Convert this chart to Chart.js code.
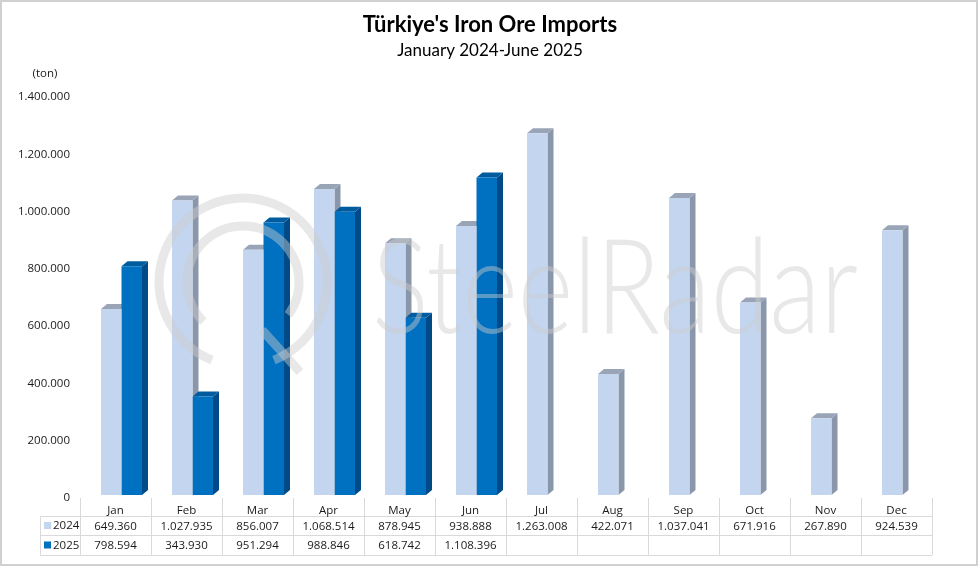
<!DOCTYPE html>
<html><head><meta charset="utf-8">
<script src="https://cdn.jsdelivr.net/npm/chart.js@4.4.1/dist/chart.umd.min.js"></script>
<style>html,body{margin:0;padding:0;background:#fff}#wrap{width:978px;height:566px;position:relative}</style>
</head><body><div id="wrap"><canvas id="c" width="978" height="566"></canvas></div>
<script>
const months = ['Jan','Feb','Mar','Apr','May','Jun','Jul','Aug','Sep','Oct','Nov','Dec'];
const seriesNames = ['2024','2025'];
const imports2024 = [649360,1027935,856007,1068514,878945,938888,1263008,422071,1037041,671916,267890,924539];
const imports2025 = [798594,343930,951294,988846,618742,1108396,null,null,null,null,null,null];
const yTicks = [0,200000,400000,600000,800000,1000000,1200000,1400000];
const titleText = "Türkiye's Iron Ore Imports";
const subtitleText = 'January 2024-June 2025';
const unitLabel = '(ton)';
const watermarkText = 'SteelRadar';

const FRONT = ['#C3D5EF', '#0070C0'];
const SIDE = ['#8A97AB', '#004B87'];
const TOP = ['#99A5B7', '#005C9F'];
const FONT = "'Open Sans', 'Liberation Sans', sans-serif";

function fmt(v){ return String(v).replace(/\B(?=(\d{3})+(?!\d))/g, '.'); }

const DX = 6, DY = 5;

const deco = {
  id: 'deco',
  beforeDraw(chart){
    const ctx = chart.ctx;
    ctx.save(); ctx.fillStyle = '#fff'; ctx.fillRect(0,0,chart.width,chart.height); ctx.restore();
  },
  beforeDatasetsDraw(chart){
    const ctx = chart.ctx;
    ctx.save();
    chart.data.datasets.forEach((ds, di) => {
      const meta = chart.getDatasetMeta(di);
      meta.data.forEach((bar, i) => {
        if (ds.data[i] == null) return;
        const p = bar.getProps(['x','y','base','width'], true);
        const l = p.x - p.width/2, r = p.x + p.width/2, t = p.y, b = p.base;
        ctx.fillStyle = SIDE[di];
        ctx.beginPath();
        ctx.moveTo(r, t); ctx.lineTo(r+DX, t-DY); ctx.lineTo(r+DX, b-DY); ctx.lineTo(r, b); ctx.closePath(); ctx.fill();
        ctx.fillStyle = TOP[di];
        ctx.beginPath();
        ctx.moveTo(l, t); ctx.lineTo(l+DX, t-DY); ctx.lineTo(r+DX, t-DY); ctx.lineTo(r, t); ctx.closePath(); ctx.fill();
      });
    });
    ctx.restore();
  },
  afterDatasetsDraw(chart){
    const ctx = chart.ctx;
    ctx.save();
    ctx.strokeStyle = 'rgba(205,205,205,0.45)';
    ctx.lineWidth = 9;
    ctx.beginPath(); ctx.arc(243, 282, 84, Math.PI*0.62, Math.PI*2.38); ctx.stroke();
    ctx.beginPath(); ctx.arc(243, 282, 56, Math.PI*0.75, Math.PI*2.2); ctx.stroke();
    ctx.beginPath(); ctx.moveTo(262, 330); ctx.lineTo(300, 372); ctx.stroke();
    ctx.fillStyle = 'rgba(205,205,205,0.45)';
    ctx.font = "300 132px Lato, 'Open Sans', sans-serif";
    ctx.textBaseline = 'alphabetic';
    const w = ctx.measureText(watermarkText).width;
    ctx.translate(372, 333);
    ctx.scale(486 / w, 1);
    ctx.fillText(watermarkText, 0, 0);
    ctx.restore();
  },
  afterDraw(chart){
    const ctx = chart.ctx;
    const xs = chart.scales.x;
    ctx.save();
    ctx.fillStyle = '#000';
    ctx.textAlign = 'center'; ctx.textBaseline = 'middle';
    ctx.font = "bold 22px Lato, 'Open Sans', sans-serif";
    ctx.fillText(titleText, 490, 25);
    ctx.font = "17px Lato, 'Open Sans', sans-serif";
    ctx.fillText(subtitleText, 490, 51);
    ctx.font = '11.5px ' + FONT;
    ctx.fillStyle = '#1a1a1a';
    ctx.fillText(unitLabel, 45, 74);

    const colW = xs.getPixelForValue(1) - xs.getPixelForValue(0);
    const x0 = xs.getPixelForValue(0) - colW/2 - 6;
    const xEnd = x0 + colW * months.length;
    const yTop = 498, r1 = 516, r2 = 535, r3 = 555, legL = 40;
    ctx.strokeStyle = '#D9D9D9'; ctx.lineWidth = 1;
    ctx.beginPath();
    [r1, r2, r3].forEach(y => { ctx.moveTo(legL, y+0.5); ctx.lineTo(xEnd, y+0.5); });
    ctx.moveTo(legL+0.5, r1); ctx.lineTo(legL+0.5, r3);
    for (let i = 0; i <= months.length; i++) {
      const x = Math.round(x0 + i*colW) + 0.5;
      ctx.moveTo(x, yTop); ctx.lineTo(x, r3);
    }
    ctx.stroke();
    ctx.font = '11.5px ' + FONT;
    ctx.fillStyle = '#1a1a1a';
    ctx.textAlign = 'center'; ctx.textBaseline = 'middle';
    months.forEach((m, i) => {
      const cx = x0 + (i+0.5)*colW;
      ctx.fillText(m, cx, 511);
      if (imports2024[i] != null) ctx.fillText(fmt(imports2024[i]), cx, 527);
      if (imports2025[i] != null) ctx.fillText(fmt(imports2025[i]), cx, 546);
    });
    [[r1, r2], [r2, r3]].forEach((rr, k) => {
      const cy = (rr[0] + rr[1]) / 2 + 0.5;
      ctx.fillStyle = FRONT[k];
      ctx.fillRect(44, cy - 4, 7, 7);
      ctx.fillStyle = '#1a1a1a';
      ctx.textAlign = 'left';
      ctx.fillText(seriesNames[k], 53, cy);
    });
    ctx.strokeStyle = '#D0D0D0'; ctx.lineWidth = 2;
    ctx.strokeRect(1, 1, chart.width - 2, chart.height - 2);
    ctx.restore();
  }
};

new Chart(document.getElementById('c'), {
  type: 'bar',
  data: {
    labels: months,
    datasets: [
      { label: seriesNames[0], data: imports2024, backgroundColor: FRONT[0], borderWidth: 0 },
      { label: seriesNames[1], data: imports2025, backgroundColor: FRONT[1], borderWidth: 0 }
    ]
  },
  options: {
    responsive: false,
    animation: false,
    devicePixelRatio: 1,
    layout: { padding: { left: 0, top: 94, right: 40, bottom: 71 } },
    plugins: { legend: { display: false }, tooltip: { enabled: false }, title: { display: false } },
    datasets: { bar: { categoryPercentage: 41/71, barPercentage: 1, grouped: true } },
    scales: {
      x: { display: false, offset: true },
      y: {
        min: 0, max: 1400000,
        afterBuildTicks(scale){ scale.ticks = yTicks.map(v => ({ value: v })); },
        afterFit(scale){ scale.width = 86; },
        grid: { display: false, drawTicks: false },
        border: { display: false },
        ticks: { padding: 16, labelOffset: 3, color: '#1a1a1a', font: { family: FONT, size: 11.5 }, callback: v => fmt(v) }
      }
    }
  },
  plugins: [deco]
});
</script>
</body></html>
